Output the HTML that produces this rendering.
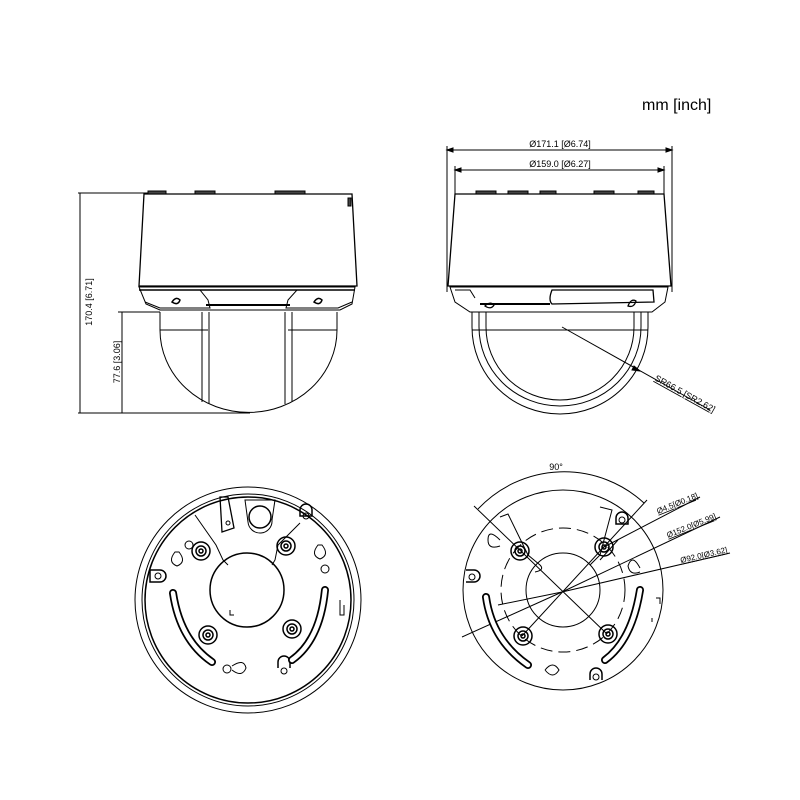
<!DOCTYPE html>
<html><head><meta charset="utf-8"><style>
html,body{margin:0;padding:0;background:#fff}
svg{display:block}
text{font-family:"Liberation Sans",sans-serif;fill:#000}
</style></head><body>
<svg width="800" height="800" viewBox="0 0 800 800" xmlns="http://www.w3.org/2000/svg" fill="none" stroke="#000" stroke-width="1">
<text x="642" y="110" font-size="16" stroke="none">mm [inch]</text>

<g>
<line x1="78" y1="193" x2="150" y2="193"/>
<line x1="78" y1="413" x2="250" y2="413"/>
<line x1="118" y1="312" x2="160" y2="312"/>
<line x1="80" y1="193" x2="80" y2="413"/>
<line x1="122" y1="312" x2="122" y2="413"/>
<text transform="translate(92,302) rotate(-90)" font-size="9" stroke="none" text-anchor="middle">170.4 [6.71]</text>
<text transform="translate(120,362) rotate(-90)" font-size="9" stroke="none" text-anchor="middle">77.6 [3.06]</text>
<path d="M144 194 L352 194 L357 286 L139 286 Z" stroke-width="1.3"/>
<rect x="148" y="191" width="18" height="3" fill="#444"/>
<rect x="195" y="191" width="20" height="3" fill="#444"/>
<rect x="275" y="191" width="30" height="3" fill="#444"/>
<rect x="348" y="198" width="3" height="8" fill="#444"/>
<path d="M139 287 L355 287 L352 304 L340 310 L160 310 L146 304 Z"/>
<line x1="139" y1="290" x2="355" y2="290" stroke-width="1.5"/>
<path d="M139 290 L200 290 L208 300 L210 308 L160 308 L145 302" />
<path d="M355 290 L297 290 L288 300 L286 308 L338 308 L352 302"/>
<path d="M172 302 q4 -6 8 -2 q-2 6 -8 2 Z" stroke-width="1.5"/>
<path d="M314 302 q4 -6 8 -2 q-2 6 -8 2 Z" stroke-width="1.5"/>
<line x1="206" y1="305" x2="290" y2="305" stroke-width="2"/>
<path d="M160 312 L160 330 A88 82 0 0 0 337 330 L337 312"/>
<line x1="160" y1="330" x2="208" y2="330"/>
<line x1="288" y1="330" x2="337" y2="330"/>
<line x1="202" y1="312" x2="202" y2="402"/>
<line x1="209" y1="312" x2="209" y2="404"/>
<line x1="285" y1="312" x2="285" y2="404"/>
<line x1="292" y1="312" x2="292" y2="402"/>
</g>

<g>
<line x1="447" y1="146" x2="447" y2="292"/>
<line x1="672" y1="146" x2="672" y2="292"/>
<line x1="455" y1="166" x2="455" y2="195"/>
<line x1="664" y1="166" x2="664" y2="195"/>
<line x1="447" y1="150" x2="672" y2="150"/>
<path d="M447 150 l6 -2 v4 Z M672 150 l-6 -2 v4 Z" fill="#000"/>
<line x1="455" y1="170" x2="664" y2="170"/>
<path d="M455 170 l6 -2 v4 Z M664 170 l-6 -2 v4 Z" fill="#000"/>
<text x="560" y="147" font-size="9" stroke="none" text-anchor="middle">Ø171.1 [Ø6.74]</text>
<text x="560" y="167" font-size="9" stroke="none" text-anchor="middle">Ø159.0 [Ø6.27]</text>
<path d="M455 194 L664 194 L671 286 L448 286 Z" stroke-width="1.3"/>
<rect x="476" y="191" width="20" height="3" fill="#444"/>
<rect x="508" y="191" width="20" height="3" fill="#444"/>
<rect x="540" y="191" width="16" height="3" fill="#444"/>
<rect x="594" y="191" width="20" height="3" fill="#444"/>
<rect x="638" y="191" width="16" height="3" fill="#444"/>
<path d="M450 287 L668 287 L665 302 L652 312 L470 312 L455 302 Z"/>
<path d="M552 290 L653 290 L654 302 L552 304 Q548 300 552 290 Z" stroke-width="1.3"/>
<path d="M455 290 L470 290 L475 298"/>
<line x1="480" y1="304" x2="550" y2="304" stroke-width="2"/>
<path d="M485 306 q5 -5 9 -1 q-3 5 -9 1 Z" stroke-width="1.3"/>
<path d="M628 306 q3 -8 8 -5 q-2 7 -8 5 Z" stroke-width="1.3"/>
<path d="M472 312 L472 327 A88 87 0 0 0 648 327 L648 312"/>
<path d="M479 312 L479 327 A81 79 0 0 0 641 327 L641 312"/>
<path d="M486 312 L486 327 A74 73 0 0 0 634 327 L634 312"/>
<line x1="472" y1="330" x2="648" y2="330"/>
<line x1="562" y1="327" x2="710" y2="410"/>
<path d="M640 371 l-6 -5 l-2 4 Z" fill="#000"/>
<text transform="translate(654,380) rotate(29)" font-size="9" stroke="none" text-decoration="underline">SR66.5 [SR2.62]</text>
</g>

<g>
<circle cx="248" cy="600" r="113"/>
<circle cx="248" cy="600" r="106"/>
<circle cx="248" cy="600" r="103" stroke-width="1.5"/>
<circle cx="247" cy="590" r="37" stroke-width="1.5"/>
<path d="M230 610 v5 h4" />
<path d="M195 515 L216 545 L223 560 L228 565 M300 523 L278 545 L275 560 L272 565"/>
<path d="M220 497 L228 497 L234 528 L222 532 Z" stroke-width="1.3"/>
<circle cx="228" cy="523" r="2"/>
<path d="M245 500 L275 500 L272 520 A12 12 0 0 1 248 522 Z"/>
<circle cx="260" cy="517" r="11" stroke-width="1.5"/>
<g stroke-width="1.5">
<circle cx="201" cy="551" r="9"/><circle cx="201" cy="551" r="5"/><circle cx="201" cy="551" r="2"/>
<circle cx="286" cy="546" r="9"/><circle cx="286" cy="546" r="5"/><circle cx="286" cy="546" r="2"/>
<circle cx="208" cy="635" r="9"/><circle cx="208" cy="635" r="5"/><circle cx="208" cy="635" r="2"/>
<circle cx="292" cy="629" r="9"/><circle cx="292" cy="629" r="5"/><circle cx="292" cy="629" r="2"/>
</g>
<path d="M300 510 a6 6 0 1 1 12 0 v6 h-12 Z" stroke-width="1.5"/><circle cx="306" cy="516" r="3"/>
<path d="M150 570 h10 a6 6 0 0 1 0 12 h-10 Z" stroke-width="1.5"/><circle cx="158" cy="576" r="3"/>
<path d="M278 668 v-6 a6 6 0 0 1 12 0 v6" stroke-width="1.5"/><circle cx="284" cy="671" r="3"/>
<path d="M173 593 Q180 640 212 662" stroke-width="8" stroke-linecap="round"/>
<path d="M173 593 Q180 640 212 662" stroke-width="4.5" stroke="#fff" stroke-linecap="round"/>
<path d="M325 590 Q320 640 292 660" stroke-width="8" stroke-linecap="round"/>
<path d="M325 590 Q320 640 292 660" stroke-width="4.5" stroke="#fff" stroke-linecap="round"/>
<circle cx="189" cy="545" r="4"/>
<path d="M175 552 q-8 10 2 14 q10 -4 2 -14 Z"/>
<circle cx="325" cy="569" r="4"/>
<path d="M318 545 q-8 10 2 14 q10 -4 2 -14 Z"/>
<circle cx="227" cy="669" r="4"/>
<path d="M232 666 q12 -8 14 2 q-4 10 -14 2"/>
<path d="M340 600 v15 h4 v-10" />
</g>

<g>
<circle cx="563" cy="590" r="100"/>
<circle cx="563" cy="590" r="62" stroke-dasharray="12 6"/>
<circle cx="563" cy="590" r="37"/>
<path d="M478 509 A118 118 0 0 1 644 503"/>
<text x="556" y="470" font-size="9" stroke="none" text-anchor="middle">90°</text>
<line x1="474" y1="506" x2="607" y2="634"/>
<line x1="647" y1="500" x2="522" y2="636"/>
<line x1="562" y1="592" x2="462" y2="637"/>
<line x1="562" y1="592" x2="720" y2="517"/>
<line x1="562" y1="592" x2="730" y2="553"/>
<line x1="562" y1="592" x2="498" y2="605"/>
<line x1="602" y1="548" x2="700" y2="497"/>
<line x1="618" y1="540" x2="600" y2="560"/>
<text transform="translate(658,514) rotate(-22)" font-size="8" stroke="none" text-decoration="underline">Ø4.5[Ø0.18]</text>
<text transform="translate(668,538) rotate(-22)" font-size="8" stroke="none" text-decoration="underline">Ø152.0[Ø5.99]</text>
<text transform="translate(681,563) rotate(-13)" font-size="8" stroke="none" text-decoration="underline">Ø92.0[Ø3.62]</text>
<path d="M500 517 L508 514 L528 555 L540 565 Q545 570 535 572 M600 507 L612 510 L600 555 L590 565"/>
<g stroke-width="1.5">
<circle cx="520" cy="551" r="9"/><circle cx="520" cy="551" r="5"/><circle cx="520" cy="551" r="2"/>
<circle cx="604" cy="547" r="9"/><circle cx="604" cy="547" r="5"/><circle cx="604" cy="547" r="2"/>
<circle cx="523" cy="636" r="9"/><circle cx="523" cy="636" r="5"/><circle cx="523" cy="636" r="2"/>
<circle cx="608" cy="634" r="9"/><circle cx="608" cy="634" r="5"/><circle cx="608" cy="634" r="2"/>
</g>
<path d="M616 518 a6 6 0 1 1 12 0 v6 h-12 Z" stroke-width="1.5"/><circle cx="622" cy="520" r="3"/>
<path d="M466 570 h8 a6 6 0 0 1 0 12 h-8" stroke-width="1.5"/><circle cx="472" cy="577" r="3"/>
<path d="M590 680 v-6 a6 6 0 0 1 12 0 v6" stroke-width="1.5"/><circle cx="596" cy="677" r="3"/>
<path d="M486 597 Q492 640 528 665" stroke-width="8" stroke-linecap="round"/>
<path d="M486 597 Q492 640 528 665" stroke-width="4.5" stroke="#fff" stroke-linecap="round"/>
<path d="M640 590 Q632 640 605 660" stroke-width="8" stroke-linecap="round"/>
<path d="M640 590 Q632 640 605 660" stroke-width="4.5" stroke="#fff" stroke-linecap="round"/>
<path d="M500 540 q-12 -12 -12 0 q0 10 12 6"/>
<path d="M640 568 q-8 -15 -12 -2 q2 10 12 6"/>
<path d="M545 670 q8 -10 14 0 q-6 10 -14 0"/>
<path d="M656 598 h4 v6 M652 618 v4"/>
</g>
</svg>
</body></html>
